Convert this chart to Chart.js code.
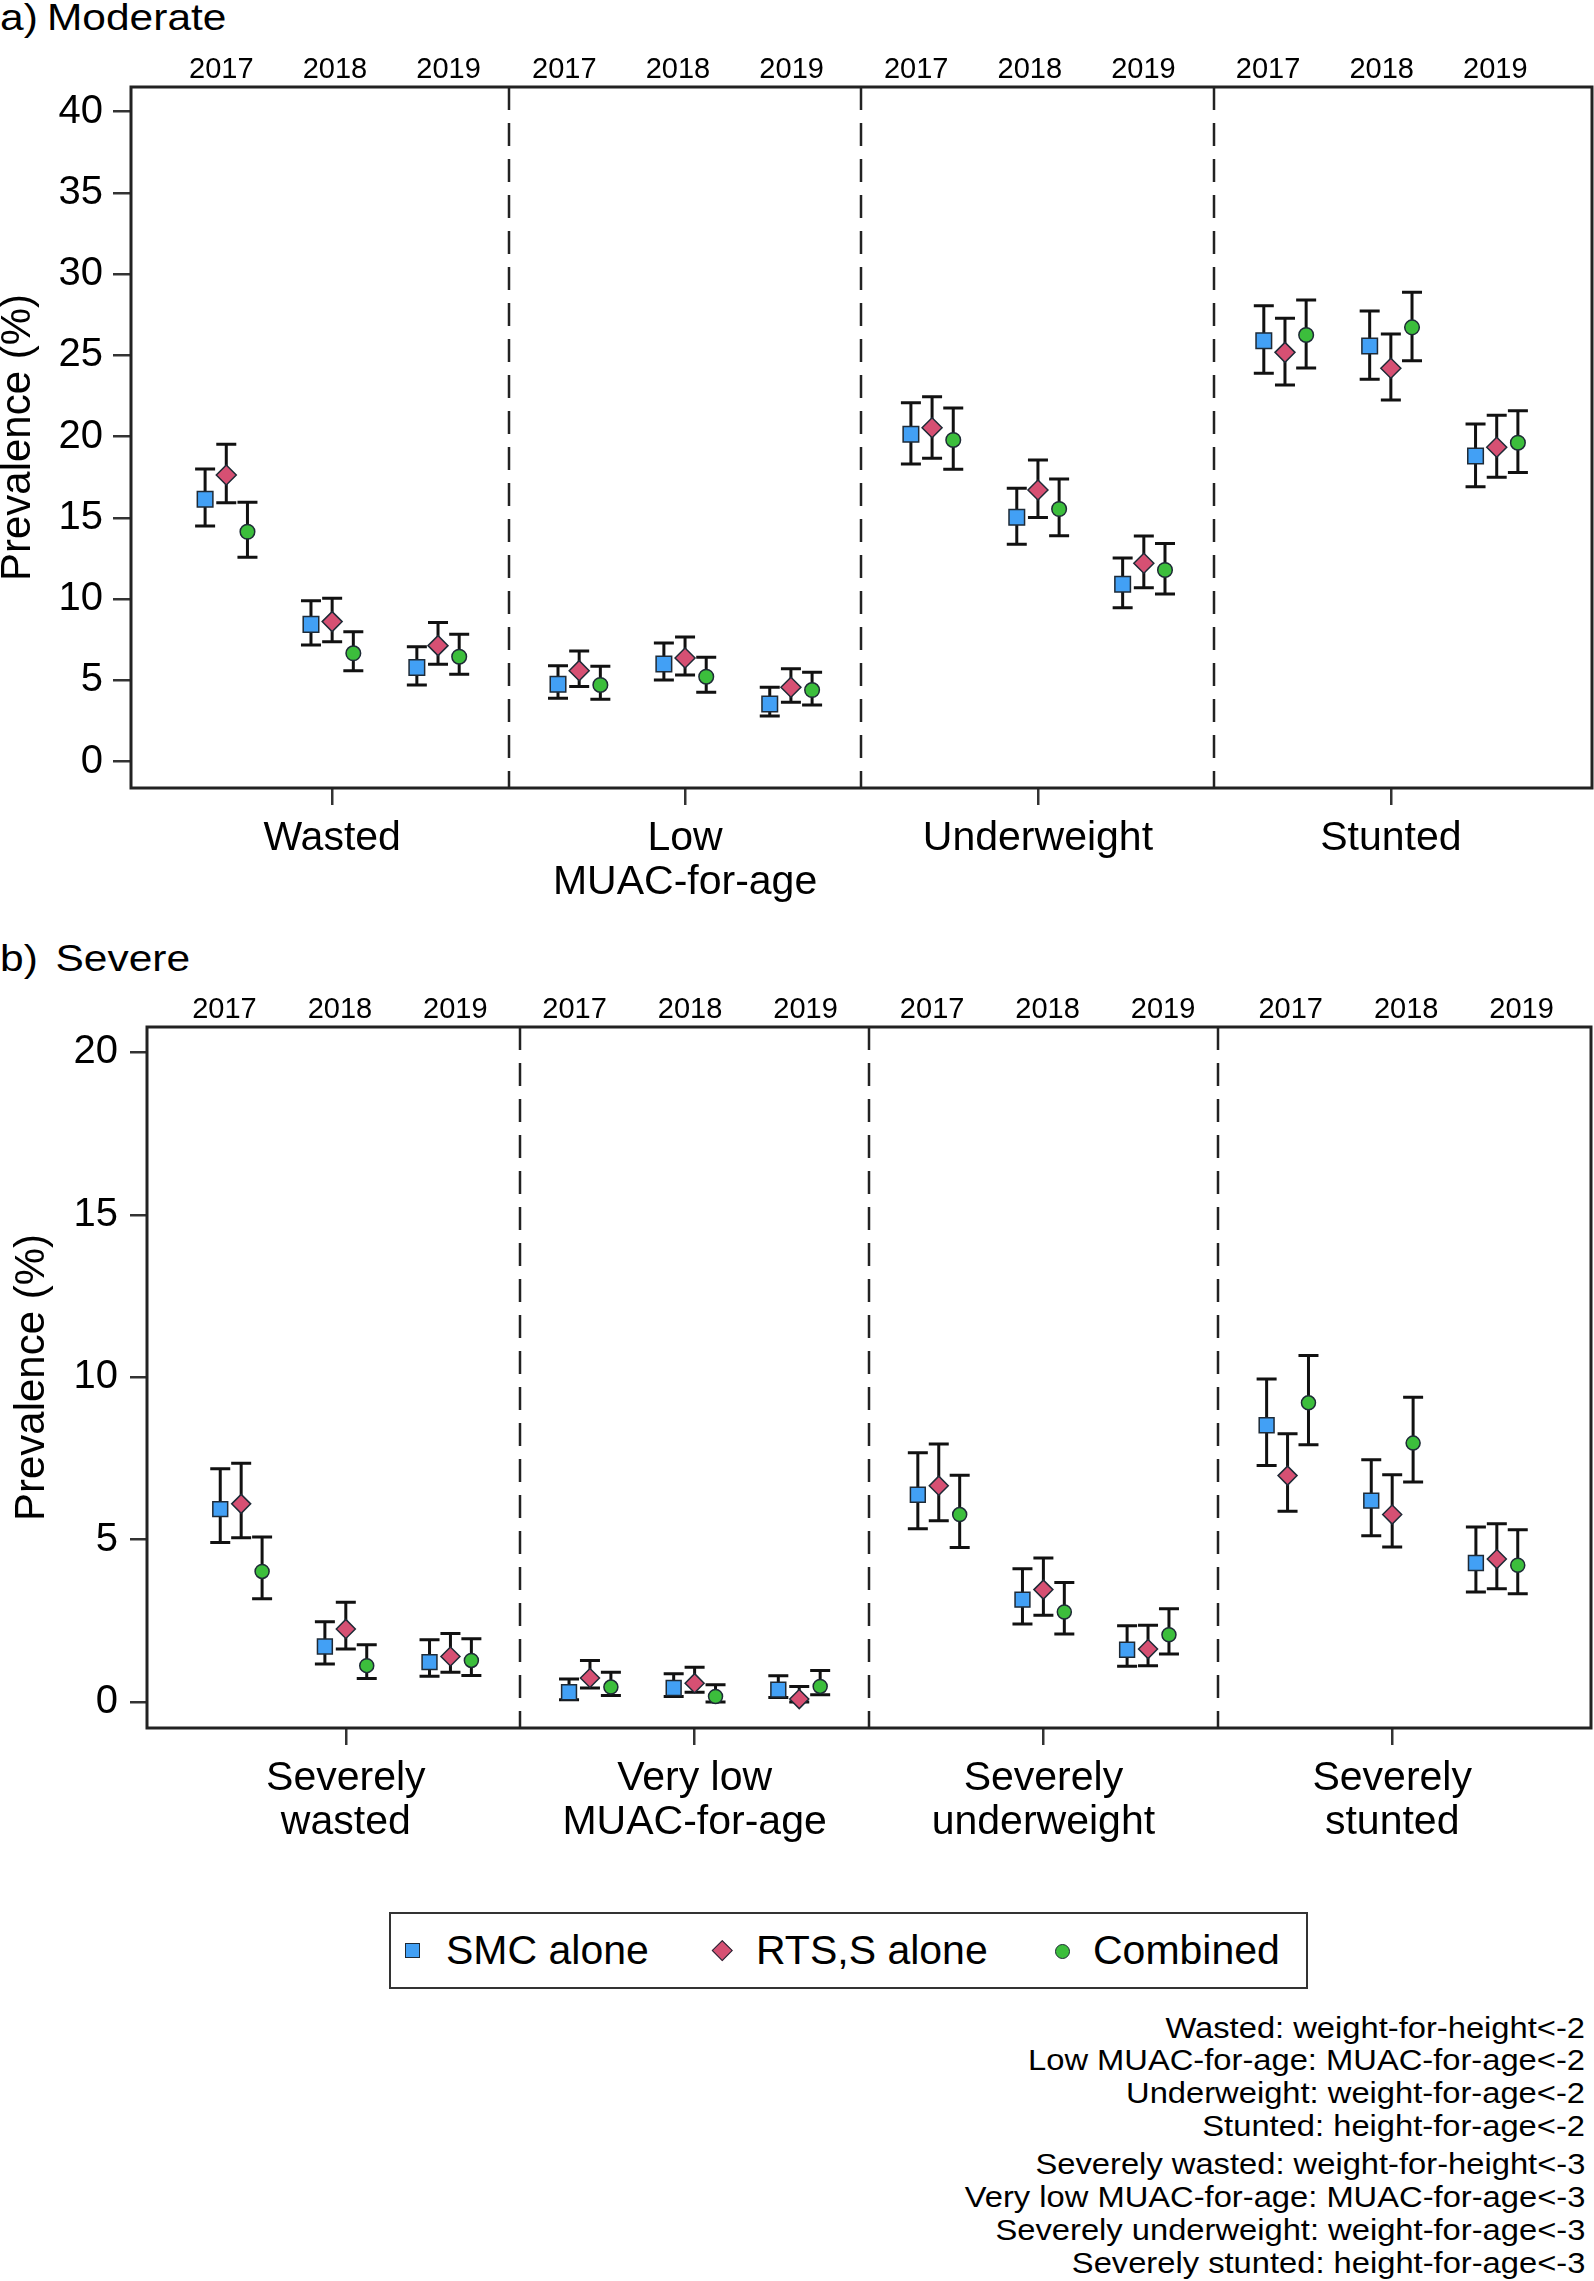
<!DOCTYPE html>
<html>
<head>
<meta charset="utf-8">
<script src="https://cdn.jsdelivr.net/npm/chart.js@4.4.0/dist/chart.umd.min.js"></script>
<style>
  body { margin: 0; background: #fff; font-family: 'Liberation Sans', Arial, sans-serif; color: #000; }
  #page { position: relative; width: 1594px; height: 2281px; overflow: hidden; }
  canvas { position: absolute; left: 0; }
  .title { position: absolute; left: 0; font-size: 36px; line-height: 1; white-space: nowrap;
           transform-origin: left top; transform: scaleX(1.18); }
  .notes { position: absolute; right: 9px; font-size: 30px; line-height: 32.8px; text-align: right;
           white-space: nowrap; transform-origin: right top; transform: scaleX(1.09); }
  #legendBox { position: absolute; left: 389px; top: 1912px; width: 919px; height: 77px;
               box-sizing: border-box; border: 2.5px solid #333; }
  .lg-text { position: absolute; font-size: 41px; line-height: 1; white-space: nowrap; }
  .lg-mark { position: absolute; box-sizing: border-box; border: 1.5px solid #1e2a36; }
</style>
</head>
<body>
<div id="page">
  <div class="title" style="top:0px">a)<span style="margin-left:7.8px">Moderate</span></div>
  <canvas id="chartA" width="1594" height="930" style="top:0px"></canvas>

  <div class="title" style="top:941px">b)<span style="margin-left:15px">Severe</span></div>
  <canvas id="chartB" width="1594" height="940" style="top:940px"></canvas>

  <div id="legendBox"></div>
  <div class="lg-mark" style="left:405px;top:1943px;width:15px;height:15px;background:#42a0f5"></div>
  <div class="lg-text" style="left:446px;top:1930px">SMC alone</div>
  <div class="lg-mark" style="left:714.5px;top:1942.5px;width:14.5px;height:14.5px;background:#d65073;transform:rotate(45deg)"></div>
  <div class="lg-text" style="left:756px;top:1930px">RTS,S alone</div>
  <div class="lg-mark" style="left:1054.5px;top:1943.5px;width:15px;height:15px;border-radius:50%;background:#3cbe3c"></div>
  <div class="lg-text" style="left:1093px;top:1930px">Combined</div>

  <div class="notes" style="top:2011.5px">
    Wasted: weight-for-height&lt;-2<br>
    Low MUAC-for-age: MUAC-for-age&lt;-2<br>
    Underweight: weight-for-age&lt;-2<br>
    Stunted: height-for-age&lt;-2
  </div>
  <div class="notes" style="top:2148.2px">
    Severely wasted: weight-for-height&lt;-3<br>
    Very low MUAC-for-age: MUAC-for-age&lt;-3<br>
    Severely underweight: weight-for-age&lt;-3<br>
    Severely stunted: height-for-age&lt;-3
  </div>
</div>

<script>
const FONT = "'Liberation Sans', Arial, sans-serif";
Chart.defaults.font.family = FONT;
Chart.defaults.color = '#000';

// Categories and tick labels
const modCategories = [['Wasted'], ['Low', 'MUAC-for-age'], ['Underweight'], ['Stunted']];
const sevCategories = [['Severely', 'wasted'], ['Very low', 'MUAC-for-age'], ['Severely', 'underweight'], ['Severely', 'stunted']];
const years = ['2017', '2018', '2019'];
const modYTicks = [0, 5, 10, 15, 20, 25, 30, 35, 40];
const sevYTicks = [0, 5, 10, 15, 20];
const seriesNames = ['SMC alone', 'RTS,S alone', 'Combined'];

// Moderate: each array is category x year (Wasted 2017..2019, Low MUAC .., Underweight .., Stunted ..)
const modSmc    = [16.15, 8.45, 5.79, 4.76, 6.01, 3.55, 20.15, 15.04, 10.92, 25.91, 25.58, 18.81];
const modSmcLo  = [14.50, 7.18, 4.72, 3.90, 5.03, 2.81, 18.32, 13.38,  9.48, 23.90, 23.53, 16.92];
const modSmcHi  = [18.01, 9.91, 7.08, 5.91, 7.30, 4.58, 22.09, 16.82, 12.54, 28.06, 27.74, 20.78];
const modRts    = [17.64, 8.62, 7.14, 5.60, 6.38, 4.58, 20.55, 16.72, 12.21, 25.19, 24.21, 19.35];
const modRtsLo  = [15.94, 7.38, 6.00, 4.62, 5.34, 3.65, 18.67, 15.02, 10.71, 23.18, 22.26, 17.50];
const modRtsHi  = [19.53, 10.05, 8.56, 6.81, 7.67, 5.72, 22.46, 18.57, 13.89, 27.29, 26.32, 21.32];
const modComb   = [14.15, 6.67, 6.46, 4.72, 5.23, 4.41, 19.80, 15.55, 11.80, 26.26, 26.73, 19.63];
const modCombLo = [12.58, 5.60, 5.38, 3.84, 4.27, 3.49, 17.99, 13.91, 10.32, 24.23, 24.68, 17.79];
const modCombHi = [15.96, 8.00, 7.84, 5.87, 6.42, 5.50, 21.77, 17.40, 13.42, 28.41, 28.89, 21.60];

// Severe
const sevSmc    = [5.94, 1.71, 1.23, 0.30, 0.43, 0.38, 6.38, 3.15, 1.61, 8.52, 6.20, 4.28];
const sevSmcLo  = [4.91, 1.17, 0.79, 0.07, 0.17, 0.14, 5.33, 2.40, 1.10, 7.28, 5.12, 3.39];
const sevSmcHi  = [7.18, 2.47, 1.92, 0.71, 0.87, 0.81, 7.67, 4.10, 2.35, 9.94, 7.46, 5.39];
const sevRts    = [6.10, 2.25, 1.40, 0.74, 0.58, 0.09, 6.66, 3.46, 1.63, 6.97, 5.77, 4.40];
const sevRtsLo  = [5.06, 1.63, 0.92, 0.43, 0.30, 0.00, 5.58, 2.67, 1.12, 5.87, 4.77, 3.49];
const sevRtsHi  = [7.35, 3.07, 2.11, 1.28, 1.07, 0.48, 7.94, 4.43, 2.36, 8.26, 7.00, 5.49];
const sevComb   = [4.02, 1.12, 1.28, 0.46, 0.17, 0.48, 5.77, 2.77, 2.07, 9.21, 7.97, 4.21];
const sevCombLo = [3.18, 0.72, 0.82, 0.20, 0.00, 0.22, 4.76, 2.09, 1.48, 7.92, 6.77, 3.33];
const sevCombHi = [5.08, 1.76, 1.95, 0.92, 0.53, 0.97, 6.98, 3.68, 2.87, 10.67, 9.38, 5.30];

// layout offsets (in x-axis units, category centres at 1..4)
const YEAR_OFF = [-0.3, 0, 0.3];
const SERIES_OFF = [-0.06, 0, 0.06];
const COLORS = ['#42a0f5', '#d65073', '#3cbe3c'];
const STYLES = ['rect', 'rectRot', 'circle'];

// Error bars drawn under the markers
const errorBars = {
  id: 'errorBars',
  beforeDatasetsDraw(chart) {
    const {ctx} = chart;
    const xs = chart.scales.x, ys = chart.scales.y;
    const cap = 10;
    ctx.save();
    ctx.strokeStyle = '#111';
    ctx.lineWidth = 3;
    chart.data.datasets.forEach(ds => {
      ds.data.forEach((p, i) => {
        const px = xs.getPixelForValue(p.x);
        const top = ys.getPixelForValue(ds.hi[i]);
        const bot = ys.getPixelForValue(ds.lo[i]);
        ctx.beginPath();
        ctx.moveTo(px, top); ctx.lineTo(px, bot);
        ctx.moveTo(px - cap, top); ctx.lineTo(px + cap, top);
        ctx.moveTo(px - cap, bot); ctx.lineTo(px + cap, bot);
        ctx.stroke();
      });
    });
    ctx.restore();
  }
};

// Frame and dashed separators between categories
const frame = {
  id: 'frame',
  beforeDatasetsDraw(chart) {
    const {ctx, chartArea: a} = chart;
    const xs = chart.scales.x;
    ctx.save();
    ctx.strokeStyle = '#222';
    ctx.lineWidth = 2.5;
    ctx.setLineDash([23, 13]);
    [1.5, 2.5, 3.5].forEach(v => {
      const px = Math.round(xs.getPixelForValue(v));
      ctx.beginPath();
      ctx.moveTo(px, a.top);
      ctx.lineTo(px, a.bottom);
      ctx.stroke();
    });
    ctx.setLineDash([]);
    ctx.lineWidth = 3;
    ctx.strokeRect(a.left, a.top, a.right - a.left, a.bottom - a.top);
    ctx.restore();
  }
};

function makeChart(id, o) {
  const xPos = (i, s) => Math.floor(i / 3) + 1 + YEAR_OFF[i % 3] + SERIES_OFF[s];
  const datasets = o.series.map((ser, s) => ({
    label: seriesNames[s],
    data: ser.mean.map((v, i) => ({x: xPos(i, s), y: v})),
    lo: ser.lo,
    hi: ser.hi,
    pointStyle: STYLES[s],
    backgroundColor: COLORS[s],
    borderColor: '#1e2a36',
    borderWidth: 1.5,
    pointRadius: o.radius[s],
    pointHoverRadius: o.radius[s],
    showLine: false
  }));
  // year labels along the top, one group of three per category
  const yearTicks = [];
  [0, 1, 2, 3].forEach(c => [-1, 0, 1].forEach(j => yearTicks.push(c + 1 + o.labelShift[c] + j * o.labelStep)));

  return new Chart(document.getElementById(id), {
    type: 'scatter',
    data: {datasets},
    plugins: [frame, errorBars],
    options: {
      responsive: false,
      animation: false,
      events: [],
      layout: {autoPadding: false, padding: {left: 0, right: o.padRight, top: 0, bottom: 0}},
      plugins: {legend: {display: false}, tooltip: {enabled: false}},
      scales: {
        x: {
          type: 'linear', position: 'bottom', min: 0.43, max: 4.57,
          afterBuildTicks: sc => { sc.ticks = [1, 2, 3, 4].map(v => ({value: v})); },
          afterFit: sc => { sc.height = o.bottomH; },
          grid: {drawOnChartArea: false, drawTicks: true, tickLength: 17, color: '#333', lineWidth: 2.5},
          border: {display: false},
          ticks: {
            autoSkip: false, maxRotation: 0, padding: 12, color: '#000',
            font: {size: 41, lineHeight: 1.07},
            callback: (v, i) => o.categories[i]
          }
        },
        xTop: {
          type: 'linear', axis: 'x', position: 'top', min: 0.43, max: 4.57,
          afterBuildTicks: sc => { sc.ticks = yearTicks.map(v => ({value: v})); },
          afterFit: sc => { sc.height = 87; },
          grid: {display: false, drawTicks: false},
          border: {display: false},
          ticks: {
            autoSkip: false, maxRotation: 0, padding: 0, color: '#000',
            font: {size: 29},
            callback: (v, i) => years[i % 3]
          }
        },
        y: {
          type: 'linear', min: o.yMin, max: o.yMax,
          afterBuildTicks: sc => { sc.ticks = o.yTicks.map(v => ({value: v})); },
          afterFit: sc => { sc.width = o.leftW; },
          grid: {drawOnChartArea: false, drawTicks: true, tickLength: o.yTickLen, color: '#333', lineWidth: 2.5},
          border: {display: false},
          ticks: {padding: o.yPad, color: '#000', font: {size: 40}, callback: v => String(v)},
          title: {
            display: true, text: 'Prevalence (%)', color: '#000',
            font: {size: 42, lineHeight: 0.9},
            padding: {top: o.titlePad, bottom: 0}
          }
        }
      }
    }
  });
}

makeChart('chartA', {
  categories: modCategories,
  yTicks: modYTicks, yMin: -1.62, yMax: 41.52,
  series: [
    {mean: modSmc, lo: modSmcLo, hi: modSmcHi},
    {mean: modRts, lo: modRtsLo, hi: modRtsHi},
    {mean: modComb, lo: modCombLo, hi: modCombHi}
  ],
  labelShift: [0.008, -0.020, -0.023, -0.026], labelStep: 0.322,
  radius: [11, 10, 7.3],
  leftW: 131, padRight: 2, bottomH: 142,
  yTickLen: 18, yPad: 10, titlePad: 0
});

makeChart('chartB', {
  categories: sevCategories,
  yTicks: sevYTicks, yMin: -0.8, yMax: 20.78,
  series: [
    {mean: sevSmc, lo: sevSmcLo, hi: sevSmcHi},
    {mean: sevRts, lo: sevRtsLo, hi: sevRtsHi},
    {mean: sevComb, lo: sevCombLo, hi: sevCombHi}
  ],
  labelShift: [-0.017, -0.013, 0.012, 0.040], labelStep: 0.331,
  radius: [10.5, 9.5, 7],
  leftW: 147, padRight: 3, bottomH: 152,
  yTickLen: 17, yPad: 12, titlePad: 14
});
</script>
</body>
</html>
